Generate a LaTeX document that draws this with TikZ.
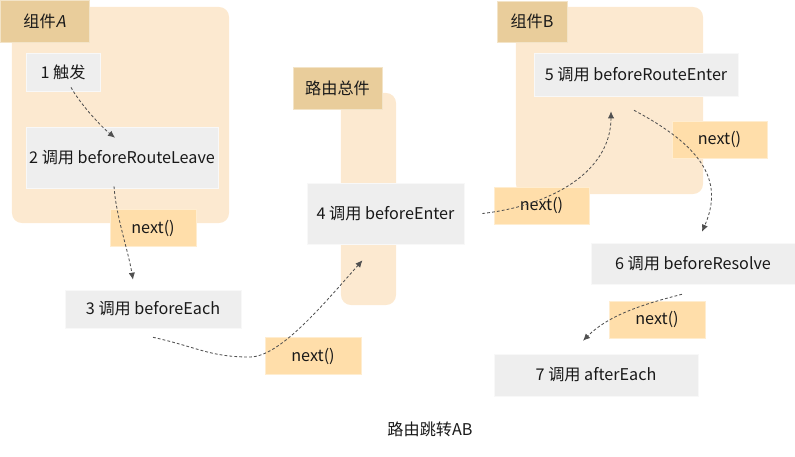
\documentclass[tikz,border=0pt]{standalone}
\usepackage{fontspec}
\setmainfont{Noto Sans CJK SC}
\newfontfamily\slantcjk[FakeSlant=0.2]{Noto Sans CJK SC}
\usetikzlibrary{arrows.meta,calc}
\definecolor{panelfill}{RGB}{252,233,208}
\definecolor{tagfill}{RGB}{233,205,155}
\definecolor{nextfill}{RGB}{255,222,170}
\definecolor{stepfill}{RGB}{238,238,238}
\definecolor{flowgray}{RGB}{80,80,80}

\begin{document}
\begin{tikzpicture}[x=0.025cm, y=-0.025cm, font=\fontsize{11.5}{13}\selectfont, text=black!90,
  panel/.style={fill=panelfill, rounded corners=0.25cm, inner sep=0},
  tag/.style={fill=tagfill, draw=tagfill!55!white, inner sep=0},
  stepbox/.style={fill=stepfill, draw=stepfill!40!white, inner sep=0},
  nextbox/.style={fill=nextfill, draw=nextfill!55!white, inner sep=0, minimum height=0.93cm},
  flow/.style={draw=flowgray, dash pattern=on 2pt off 1.5pt, line width=0.6pt, -{Latex[length=5pt,width=4.5pt]}}]
\useasboundingbox (0,0) rectangle (795,456);
% gruppi: componente A, router, componente B
\node[panel, minimum width=5.425cm, minimum height=5.4cm]   (compA) at (120.5,115) {};
\node[panel, minimum width=1.375cm, minimum height=5.3cm]   (router) at (368.5,199) {};
\node[panel, minimum width=4.675cm, minimum height=4.675cm] (compB) at (609.5,100.5) {};
\node[tag, minimum width=2.225cm, minimum height=1.05cm]  (tagA) at (44.5,21) {组件{\slantcjk A}};
\node[tag, minimum width=2.225cm, minimum height=1.05cm]  (tagR) at (337.5,88) {路由总件};
\node[tag, minimum width=1.75cm, minimum height=1.025cm]  (tagB) at (532,21.5) {组件B};
% passi
\node[stepbox, minimum width=1.85cm, minimum height=0.95cm]   (n1) at (63,72)      {1 触发};
\node[stepbox, minimum width=4.8cm, minimum height=1.525cm]   (n2) at (122,157.5)  {2 调用 beforeRouteLeave};
\node[stepbox, minimum width=4.4cm, minimum height=0.95cm]    (n3) at (153,309)    {3 调用 beforeEach};
\node[stepbox, minimum width=3.925cm, minimum height=1.525cm] (n4) at (385.5,213.5) {4 调用 beforeEnter};
\node[stepbox, minimum width=5.1cm, minimum height=1.075cm]   (n5) at (636,74.5)   {5 调用 beforeRouteEnter};
\node[stepbox, minimum width=5.1cm, minimum height=1.025cm]   (n6) at (693,263.5)  {6 调用 beforeResolve};
\node[stepbox, minimum width=5.1cm, minimum height=1.05cm]    (n7) at (596,375)    {7 调用 afterEach};
\node[nextbox, minimum width=2.15cm]  (nextA) at (153,228)     {next()};
\node[nextbox, minimum width=2.4cm]   (nextC) at (313,356)     {next()};
\node[nextbox, minimum width=2.375cm] (nextD) at (541.5,205.5) {next()};
\node[nextbox, minimum width=2.375cm] (nextE) at (719.5,139.5) {next()};
\node[nextbox, minimum width=2.4cm]   (nextF) at (657,319.5)   {next()};
\node (caption) at (430,429) {路由跳转AB};
% frecce tratteggiate
\coordinate (dip) at ($(nextC.west)+(-15,1)$);
\draw[flow] ($(n1.south)+(8,-4)$) .. controls +(8,15) and +(-15,-12) .. ($(n2.north)+(-7,11)$);
\draw[flow] ($(n2.south)+(-8,-2)$) .. controls +(2,30) and +(-5,-30) .. ($(n3.north)+(-20,-10)$);
\draw[flow] ($(n3.south)+(0,9)$) .. controls +(45,10) and +(-40,0) .. (dip)
  .. controls +(30,0) and +(-40,45) .. ($(n4.south)+(-23,16)$);
\draw[flow] ($(n4.east)+(18,0)$) .. controls +(70,-8) and +(0,60) .. ($(n5.south)+(-25,15)$);
\draw[flow] ($(n5.south)+(-2,14)$) .. controls +(66,35) and +(23,-52) .. ($(n6.north)+(9,-11)$);
\draw[flow] ($(n6.south)+(-11,10)$) .. controls +(-40,10) and +(25,-25) .. ($(n7.north)+(-13,-13)$);
\end{tikzpicture}
\end{document}
